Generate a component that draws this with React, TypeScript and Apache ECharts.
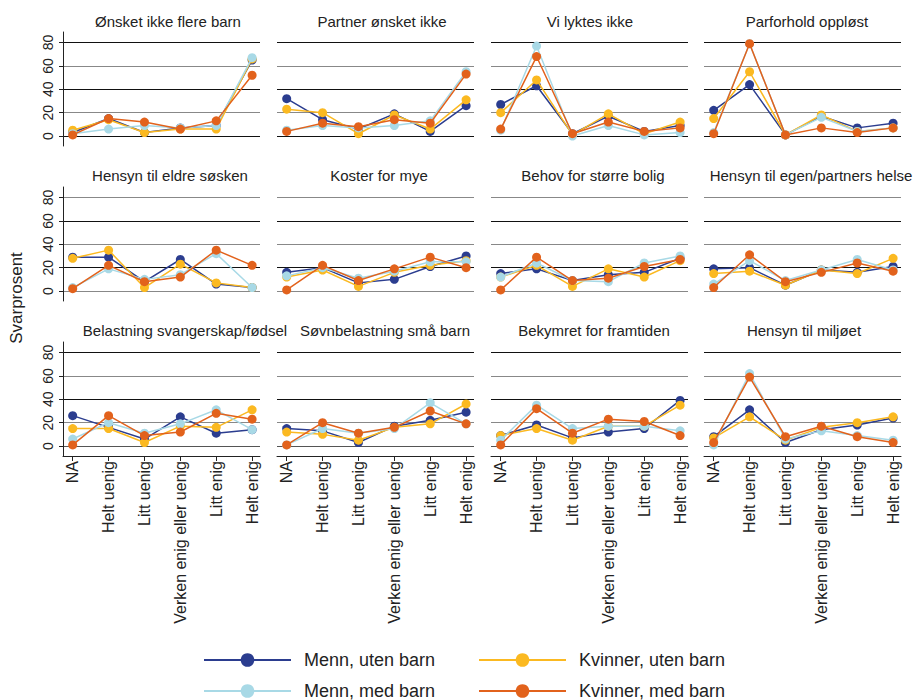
import React, { useEffect, useRef } from "react";
import * as echarts from "echarts";

const categories = ["NA", "Helt uenig", "Litt uenig", "Verken enig eller uenig", "Litt enig", "Helt enig"];
const seriesNames = ["Menn, uten barn", "Kvinner, uten barn", "Menn, med barn", "Kvinner, med barn"];
const seriesColors = ["#2b3d8f", "#fbb921", "#a8d9e6", "#e2621c"];
const panelTitles = [
  "Ønsket ikke flere barn",
  "Partner ønsket ikke",
  "Vi lyktes ikke",
  "Parforhold oppløst",
  "Hensyn til eldre søsken",
  "Koster for mye",
  "Behov for større bolig",
  "Hensyn til egen/partners helse",
  "Belastning svangerskap/fødsel",
  "Søvnbelastning små barn",
  "Bekymret for framtiden",
  "Hensyn til miljøet",
];
const yTicks = [0, 20, 40, 60, 80];

// one row per panel, values per category
const mennUtenBarn = [
  [3, 15, 3, 7, 9, 65],
  [32, 14, 6, 19, 4, 26],
  [27, 43, 2, 17, 4, 9],
  [22, 44, 1, 17, 7, 11],
  [29, 29, 8, 27, 6, 3],
  [16, 20, 7, 10, 21, 30],
  [15, 19, 9, 14, 16, 28],
  [19, 20, 5, 18, 16, 21],
  [26, 16, 6, 25, 11, 14],
  [15, 13, 3, 17, 22, 29],
  [9, 18, 7, 12, 15, 39],
  [8, 31, 3, 14, 18, 24],
];
const kvinnerUtenBarn = [
  [5, 14, 3, 6, 6, 66],
  [23, 20, 2, 18, 6, 31],
  [20, 48, 1, 19, 2, 12],
  [15, 55, 1, 18, 4, 7],
  [28, 35, 3, 23, 7, 3],
  [12, 18, 4, 16, 22, 26],
  [12, 22, 4, 19, 12, 26],
  [15, 17, 5, 18, 15, 28],
  [15, 15, 3, 17, 16, 31],
  [12, 10, 5, 16, 19, 36],
  [9, 15, 5, 17, 17, 35],
  [7, 25, 5, 16, 20, 25],
];
const mennMedBarn = [
  [2, 6, 9, 7, 9, 67],
  [5, 9, 7, 9, 13, 55],
  [5, 77, 0, 9, 1, 3],
  [3, 79, 1, 16, 4, 7],
  [3, 19, 10, 14, 32, 3],
  [13, 20, 11, 17, 25, 25],
  [12, 24, 9, 8, 24, 30],
  [6, 26, 9, 18, 27, 18],
  [6, 20, 11, 19, 31, 14],
  [1, 15, 11, 15, 37, 19],
  [5, 35, 15, 17, 17, 13],
  [1, 62, 6, 13, 9, 5],
];
const kvinnerMedBarn = [
  [1, 15, 12, 6, 13, 52],
  [4, 11, 8, 14, 11, 53],
  [6, 68, 2, 12, 4, 7],
  [2, 79, 1, 7, 3, 7],
  [2, 22, 8, 12, 35, 22],
  [1, 22, 9, 19, 29, 20],
  [1, 29, 9, 11, 21, 27],
  [3, 31, 8, 16, 24, 17],
  [1, 26, 9, 12, 28, 23],
  [1, 20, 11, 16, 30, 19],
  [1, 32, 11, 23, 21, 9],
  [3, 59, 8, 17, 8, 3],
];

const allSeries = [mennUtenBarn, kvinnerUtenBarn, mennMedBarn, kvinnerMedBarn];

const FONT = "'Liberation Sans', Arial, sans-serif";
const colLefts = [63, 277, 491, 704];
const plotWidth = 197;
const rowTops = [32, 187, 342];
const plotHeight = 114;
const titleX = [168, 382, 590, 807, 170, 379, 593, 811, 185, 385, 594, 804];
const titleY = [21, 175, 330];
const gridColors = [
  ["#111", "#888", "#111", "#888", "#111"],
  ["#888", "#111", "#888", "#111", "#888"],
  ["#555", "#888", "#111", "#888", "#111"],
];

export default function App() {
  const ref = useRef<HTMLDivElement>(null);

  useEffect(() => {
    if (!ref.current) return;
    const chart = echarts.init(ref.current, undefined, { renderer: "svg" });

    const grids: any[] = [];
    const xAxes: any[] = [];
    const yAxes: any[] = [];
    const series: any[] = [];
    const graphics: any[] = [];

    for (let p = 0; p < 12; p++) {
      const r = Math.floor(p / 4);
      const c = p % 4;
      const isBottom = r === 2;
      const isLeft = c === 0;
      grids.push({ left: colLefts[c], top: rowTops[r], width: plotWidth, height: plotHeight });
      xAxes.push({
        type: "value",
        gridIndex: p,
        min: -0.27,
        max: 5.22,
        axisLine: { show: isBottom, onZero: false, lineStyle: { color: "#222", width: 1 } },
        axisTick: { show: isBottom, customValues: [0, 1, 2, 3, 4, 5], length: 5, lineStyle: { color: "#222" } },
        axisLabel: {
          show: isBottom,
          customValues: [0, 1, 2, 3, 4, 5],
          rotate: 90,
          margin: 5,
          fontSize: 16,
          fontFamily: FONT,
          color: "#222",
          formatter: (v: number) => categories[Math.round(v)] ?? "",
        },
        splitLine: { show: false },
      });
      yAxes.push({
        type: "value",
        gridIndex: p,
        min: -8.5,
        max: 89,
        axisLine: { show: isLeft, onZero: false, lineStyle: { color: "#222", width: 1 } },
        axisTick: { show: isLeft, customValues: yTicks, length: 4, lineStyle: { color: "#222" } },
        axisLabel: {
          show: isLeft,
          customValues: yTicks,
          rotate: 90,
          margin: 8,
          fontSize: 14,
          fontFamily: FONT,
          color: "#222",
        },
        splitLine: { show: true, lineStyle: { color: gridColors[r], width: 1 } },
      });
      allSeries.forEach((arr, s) => {
        series.push({
          type: "line",
          name: seriesNames[s],
          xAxisIndex: p,
          yAxisIndex: p,
          data: arr[p].map((v, i) => [i, v]),
          symbol: "circle",
          symbolSize: 9,
          lineStyle: { color: seriesColors[s], width: 1.5 },
          itemStyle: { color: seriesColors[s] },
          emphasis: { disabled: true },
          z: 2 + s,
        });
      });
      graphics.push({
        type: "text",
        x: titleX[p],
        y: titleY[r],
        style: {
          text: panelTitles[p],
          fontSize: 15,
          fontFamily: FONT,
          fill: "#222",
          align: "center",
          verticalAlign: "middle",
        },
      });
    }

    graphics.push({
      type: "text",
      x: 16,
      y: 298,
      rotation: Math.PI / 2,
      style: {
        text: "Svarprosent",
        fontSize: 17,
        fontFamily: FONT,
        fill: "#222",
        align: "center",
        verticalAlign: "middle",
      },
    });

    const legendPos = [
      { left: 203, top: 651 },
      { left: 478, top: 651 },
      { left: 203, top: 682 },
      { left: 478, top: 682 },
    ];
    const legends = seriesNames.map((n, i) => ({
      data: [n],
      left: legendPos[i].left,
      top: legendPos[i].top,
      padding: 0,
      itemWidth: 87,
      itemHeight: 17,
      selectedMode: false,
      lineStyle: { width: 2 },
      textStyle: { fontSize: 18, fontFamily: FONT, color: "#222", padding: [0, 0, 0, 8] },
    }));

    chart.setOption({
      animation: false,
      backgroundColor: "#fff",
      grid: grids,
      xAxis: xAxes,
      yAxis: yAxes,
      series,
      legend: legends,
      graphic: graphics,
    });

    return () => chart.dispose();
  }, []);

  return (
    <div
      ref={ref}
      style={{ position: "fixed", left: 0, top: 0, width: 918, height: 700, background: "#fff" }}
    />
  );
}
